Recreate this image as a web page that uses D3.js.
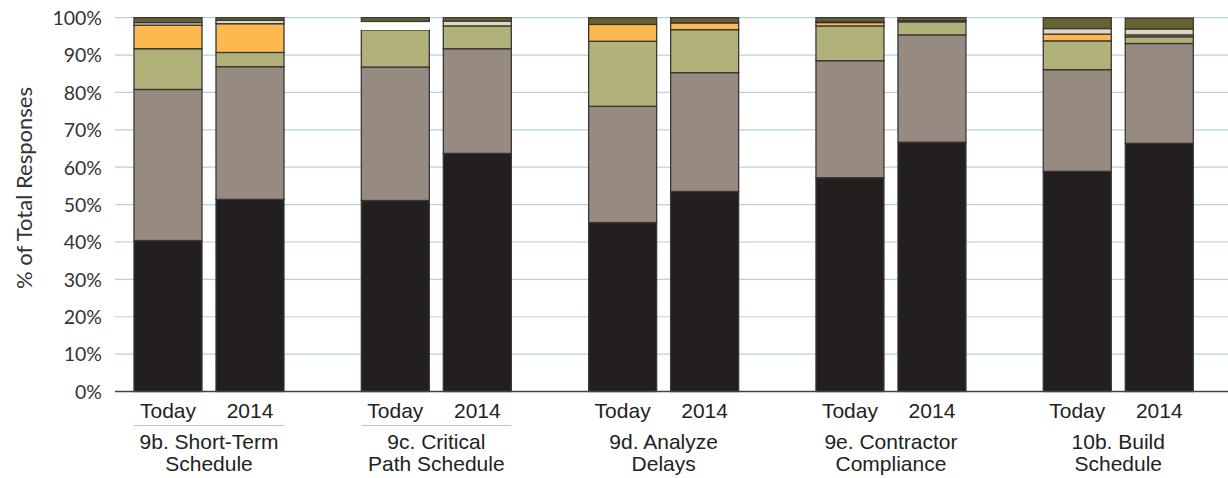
<!DOCTYPE html>
<html>
<head>
<meta charset="utf-8">
<script src="https://cdn.jsdelivr.net/npm/d3@7"></script>
<style>
  html, body { margin: 0; padding: 0; background: #fff; }
  svg { display: block; }
</style>
</head>
<body>
<svg id="chart" width="1228" height="478"></svg>
<script>
// Survey groups and the two time frames shown for each
const groups = [
  ["9b. Short-Term", "Schedule"],
  ["9c. Critical", "Path Schedule"],
  ["9d. Analyze", "Delays"],
  ["9e. Contractor", "Compliance"],
  ["10b. Build", "Schedule"]
];
const periods = ["Today", "2014"];
const yTicks = [0, 10, 20, 30, 40, 50, 60, 70, 80, 90, 100];

// Share of responses (%), one entry per bar: group by group, Today then 2014
const seriesKeys = ["s1", "s2", "s3", "s4", "s5", "s6", "s7"];
const s1 = [40.4, 51.4, 51.1, 63.7, 45.2, 53.5, 57.2, 66.7, 58.9, 66.4];
const s2 = [40.4, 35.5, 35.7, 28.0, 31.1, 31.8, 31.3, 28.7, 27.2, 26.7];
const s3 = [10.9,  3.8,  9.9,  6.1, 17.4, 11.5,  9.3,  3.5,  7.7,  1.8];
const s4 = [ 6.3,  7.7,  0.0,  0.0,  4.5,  1.8,  0.9,  0.0,  1.8,  0.5];
const s5 = [ 0.0,  0.0,  2.3,  0.0,  0.0,  0.0,  0.0,  0.0,  0.0,  0.0];
const s6 = [ 0.7,  0.9,  0.0,  1.3,  0.0,  0.0,  0.2,  0.3,  1.5,  1.6];
const s7 = [ 1.3,  0.7,  1.0,  0.9,  1.8,  1.4,  1.1,  0.8,  2.9,  2.9];

const fills = {
  s1: "#231f20", s2: "#978a80", s3: "#b0b27a", s4: "#fdb94f",
  s5: "#ffffff", s6: "#ddd8c0", s7: "#666232"
};

const rows = [];
groups.forEach((g, gi) => {
  periods.forEach((p, pi) => {
    const i = gi * 2 + pi;
    rows.push({ group: gi, period: p,
      s1: s1[i], s2: s2[i], s3: s3[i], s4: s4[i], s5: s5[i], s6: s6[i], s7: s7[i] });
  });
});

const svg = d3.select("#chart");
const left = 115, right = 1228;

const x0 = d3.scaleBand().domain(d3.range(groups.length)).range([95.4, 1232]).padding(0);
const x1 = d3.scaleBand().domain(periods).range([38.6, 188.6]).paddingInner(14 / 82).paddingOuter(0);
const y = d3.scaleLinear().domain([0, 100]).range([391.5, 17.7]);

// Horizontal gridlines
svg.append("g")
  .selectAll("line")
  .data(yTicks.filter(d => d > 0))
  .join("line")
  .attr("x1", left).attr("x2", right)
  .attr("y1", d => y(d)).attr("y2", d => y(d))
  .attr("stroke", "#b3d4d8").attr("stroke-width", 1.2);

// Y axis labels
const yAxis = d3.axisLeft(y).tickValues(yTicks).tickFormat(d => d + "%").tickSize(0).tickPadding(0);
const ya = svg.append("g").attr("transform", `translate(102,0)`).call(yAxis);
ya.select(".domain").remove();
ya.selectAll("text")
  .attr("font-family", "Lato, 'Open Sans', sans-serif")
  .attr("font-size", 19.5)
  .attr("fill", "#333")
  .attr("dy", "0.35em");

svg.append("text")
  .attr("transform", `translate(32,188) rotate(-90)`)
  .attr("text-anchor", "middle")
  .attr("font-family", "Lato, 'Open Sans', sans-serif")
  .attr("font-size", 22)
  .attr("fill", "#333")
  .text("% of Total Responses");

// Stacked bars
const stack = d3.stack().keys(seriesKeys);
const stacked = stack(rows);

svg.append("g")
  .selectAll("g")
  .data(stacked)
  .join("g")
  .attr("fill", d => fills[d.key])
  .selectAll("rect")
  .data(d => d.map(v => Object.assign(v, { key: d.key })).filter(v => v[1] - v[0] > 0))
  .join("rect")
  .attr("x", d => x0(d.data.group) + x1(d.data.period))
  .attr("width", x1.bandwidth())
  .attr("y", d => y(d[1]))
  .attr("height", d => y(d[0]) - y(d[1]))
  .attr("stroke", d => d.key === "s5" ? "none" : "#3a3636")
  .attr("stroke-width", 1.3);

// Baseline
svg.append("line")
  .attr("x1", left).attr("x2", right)
  .attr("y1", y(0)).attr("y2", y(0))
  .attr("stroke", "#444").attr("stroke-width", 1.6);

// Period labels
const labelFont = "'Liberation Sans Narrow', 'Arial Narrow', sans-serif";
const pl = svg.append("g");
groups.forEach((g, gi) => {
  periods.forEach(p => {
    pl.append("text")
      .attr("x", x0(gi) + x1(p) + x1.bandwidth() / 2)
      .attr("y", 418)
      .attr("text-anchor", "middle")
      .attr("font-family", labelFont)
      .attr("font-size", 21)
      .attr("fill", "#222")
      .text(p);
  });
  const cx = x0(gi) + x1(periods[0]) + (x1(periods[1]) + x1.bandwidth() - x1(periods[0])) / 2;
  g.forEach((line, li) => {
    pl.append("text")
      .attr("x", cx)
      .attr("y", 449 + li * 22)
      .attr("text-anchor", "middle")
      .attr("font-family", labelFont)
      .attr("font-size", 21)
      .attr("fill", "#222")
      .text(line);
  });
  if (gi < 2) {
    pl.append("line")
      .attr("x1", x0(gi) + x1(periods[0]))
      .attr("x2", x0(gi) + x1(periods[1]) + x1.bandwidth())
      .attr("y1", 425.5).attr("y2", 425.5)
      .attr("stroke", "#a9cdd2").attr("stroke-width", 1.2);
  }
});
</script>
</body>
</html>
